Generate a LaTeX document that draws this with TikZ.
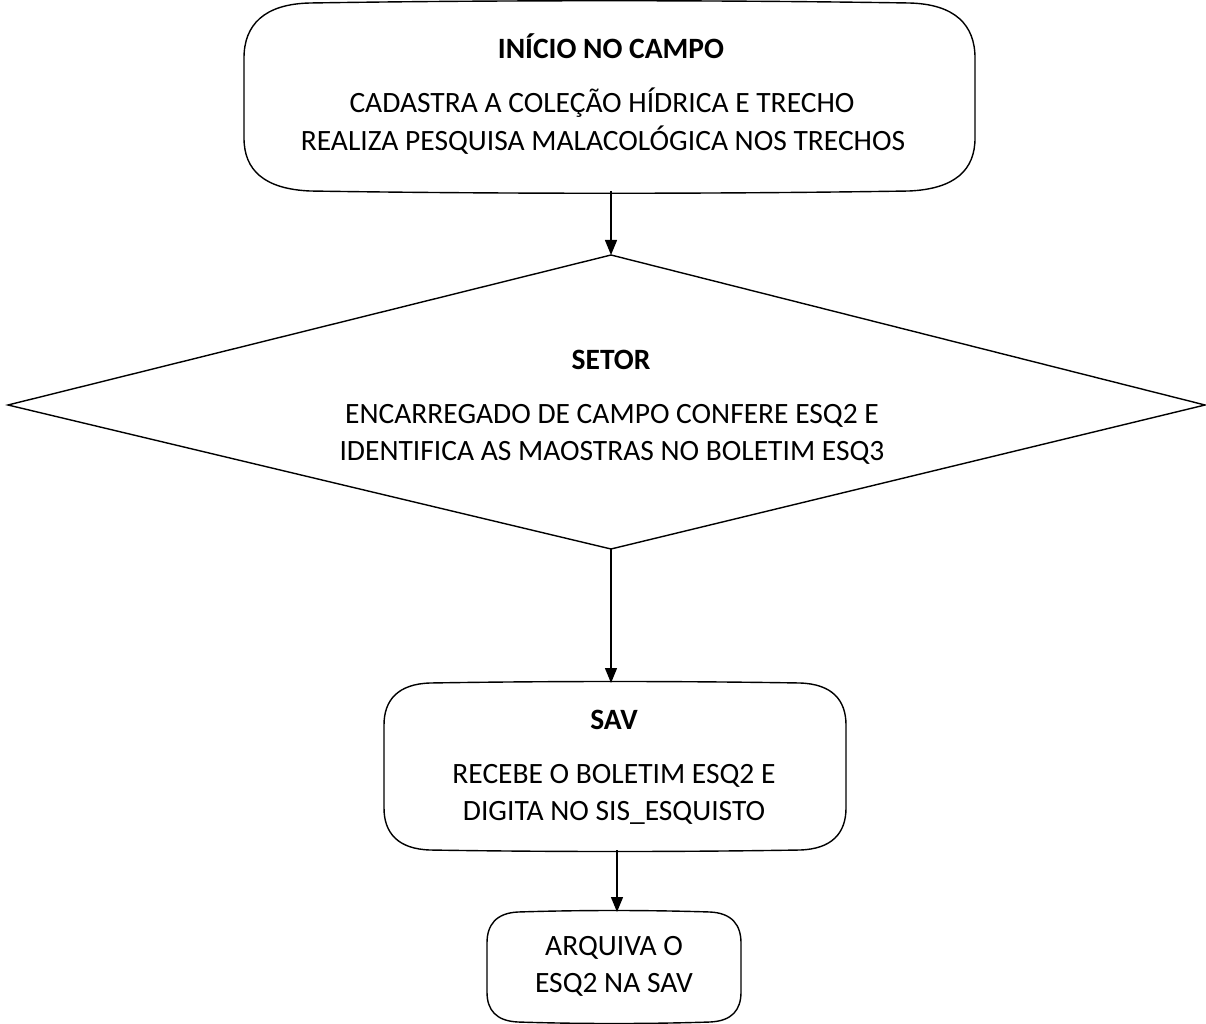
\documentclass[tikz,border=0pt]{standalone}
\usepackage{fontspec}
\setmainfont{Carlito}
\usetikzlibrary{arrows.meta}
\tikzset{
  outline/.style={draw=black, line width=1.4pt},
  conn/.style={draw=black, line width=1.4pt, -{Triangle[length=15pt,width=12pt]}},
  txt/.style={font=\fontsize{29.5}{35}\selectfont, inner sep=0pt, anchor=center},
  ttl/.style={font=\fontsize{29.5}{35}\selectfont\bfseries, inner sep=0pt, anchor=center},
}
\begin{document}
\begin{tikzpicture}[x=1pt,y=-1pt]
\useasboundingbox (0,0) rectangle (1206,1024);
% top box
\coordinate (tS) at (611,191);
\draw[outline] (310,3) .. controls (500,0) and (719,0) .. (909,3)
  .. controls (955,4) and (975,25) .. (975,58)
  -- (975,138) .. controls (975,170) and (955,189) .. (909,191)
  .. controls (719,194) and (500,194) .. (310,191)
  .. controls (264,189) and (244,170) .. (244,138)
  -- (244,58) .. controls (244,25) and (264,4) .. (310,3) -- cycle;
\node[ttl] (t1) at (611,46) {INÍCIO NO CAMPO};
\node[txt] (t2) at (602,103) {CADASTRA A COLEÇÃO HÍDRICA E TRECHO};
\node[txt] (t3) at (603,140) {REALIZA PESQUISA MALACOLÓGICA NOS TRECHOS};
% diamond
\coordinate (dN) at (611,255); \coordinate (dE) at (1205,405);
\coordinate (dS) at (611,549); \coordinate (dW) at (8,405);
\draw[outline, line join=miter] (dN) -- (dE) -- (dS) -- (dW) -- cycle;
\node[ttl] (d1) at (611,360) {SETOR};
\node[txt] (d2) at (612,416) {ENCARREGADO DE CAMPO CONFERE ESQ2 E};
\node[txt] (d3) at (612,453) {IDENTIFICA AS MAOSTRAS NO BOLETIM ESQ3};
% SAV box
\coordinate (sN) at (611,683); \coordinate (sS) at (617,850);
\draw[outline] (430,683) .. controls (550,681) and (680,681) .. (800,683)
  .. controls (832,684) and (846,700) .. (846,725)
  -- (846,808) .. controls (846,833) and (832,849) .. (800,850)
  .. controls (680,852) and (550,852) .. (430,850)
  .. controls (398,849) and (384,833) .. (384,808)
  -- (384,725) .. controls (384,700) and (398,684) .. (430,683) -- cycle;
\node[ttl] (s1) at (614,720) {SAV};
\node[txt] (s2) at (614,776) {RECEBE O BOLETIM ESQ2 E};
\node[txt] (s3) at (614,813) {DIGITA NO SIS\_ESQUISTO};
% last box
\coordinate (aN) at (617,912);
\draw[outline] (518,912) .. controls (580,910) and (648,910) .. (710,912)
  .. controls (732,913) and (741,925) .. (741,943)
  -- (741,992) .. controls (741,1010) and (732,1021) .. (710,1022)
  .. controls (648,1024) and (580,1024) .. (518,1022)
  .. controls (496,1021) and (487,1010) .. (487,992)
  -- (487,943) .. controls (487,925) and (496,913) .. (518,912) -- cycle;
\node[txt] (a1) at (614,948) {ARQUIVA O};
\node[txt] (a2) at (614,985) {ESQ2 NA SAV};
% connectors
\draw[conn] (tS) -- (dN);
\draw[conn] (dS) -- (sN);
\draw[conn] (sS) -- (aN);
\end{tikzpicture}
\end{document}
